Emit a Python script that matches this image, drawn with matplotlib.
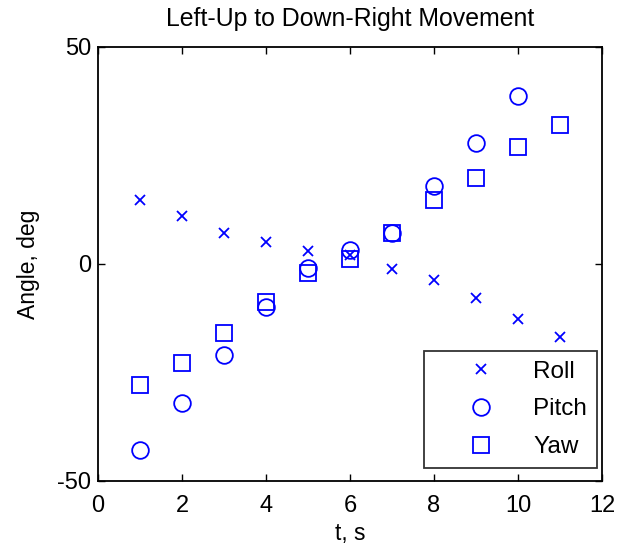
import numpy as np
import matplotlib.pyplot as plt

plt.rcParams['font.family'] = ['Liberation Sans', 'DejaVu Sans']
plt.rcParams['axes.unicode_minus'] = False

t_roll = [1, 2, 3, 4, 5, 6, 7, 8, 9, 10, 11]
roll = [14.7, 11.1, 7.1, 5.1, 3.0, 2.1, -1.2, -3.8, -7.9, -12.7, -16.8]

t_pitch = [1, 2, 3, 4, 5, 6, 7, 8, 9, 10]
pitch = [-42.9, -32.0, -21.0, -10.0, -1.0, 3.2, 7.1, 18.0, 27.9, 38.7]

t_yaw = [1, 2, 3, 4, 5, 6, 7, 8, 9, 10, 11]
yaw = [-27.8, -22.7, -16.0, -8.7, -2.0, 1.1, 7.1, 14.7, 19.7, 27.0, 32.0]

fig = plt.figure(figsize=(6.37, 5.49), dpi=100)
ax = fig.add_axes([0.1538, 0.1239, 0.7912, 0.7905])

ax.plot(t_roll, roll, 'x', color='b', markersize=7, markeredgewidth=1.3, label='Roll')
ax.plot(t_pitch, pitch, 'o', color='b', markersize=12, markerfacecolor='none', markeredgewidth=1.3, label='Pitch')
ax.plot(t_yaw, yaw, 's', color='b', markersize=11.5, markerfacecolor='none', markeredgewidth=1.3, label='Yaw')

ax.set_xlim(0, 12)
ax.set_ylim(-50, 50)
ax.set_xticks(np.arange(0, 13, 2))
ax.set_yticks([-50, 0, 50])
ax.tick_params(direction='in', top=True, right=True, labelsize=17, length=5, width=1)
ax.tick_params(axis='x', pad=10)
ax.tick_params(axis='y', pad=5)
for s in ax.spines.values():
    s.set_linewidth(1.3)

ax.set_xlabel('t, s', fontsize=16.5, labelpad=4)
ax.set_ylabel('Angle, deg', fontsize=16.5, labelpad=12)
ax.set_title('Left-Up to Down-Right Movement', fontsize=17.9, pad=15)

leg = ax.legend(loc='lower right', bbox_to_anchor=(0.99, 0.03), fontsize=17.5, fancybox=False,
                edgecolor='k', borderaxespad=0, handlelength=3.95, handletextpad=0.16,
                labelspacing=0.65, borderpad=0.4)
leg.get_frame().set_linewidth(1.3)

fig.savefig('out.png', dpi=100)
